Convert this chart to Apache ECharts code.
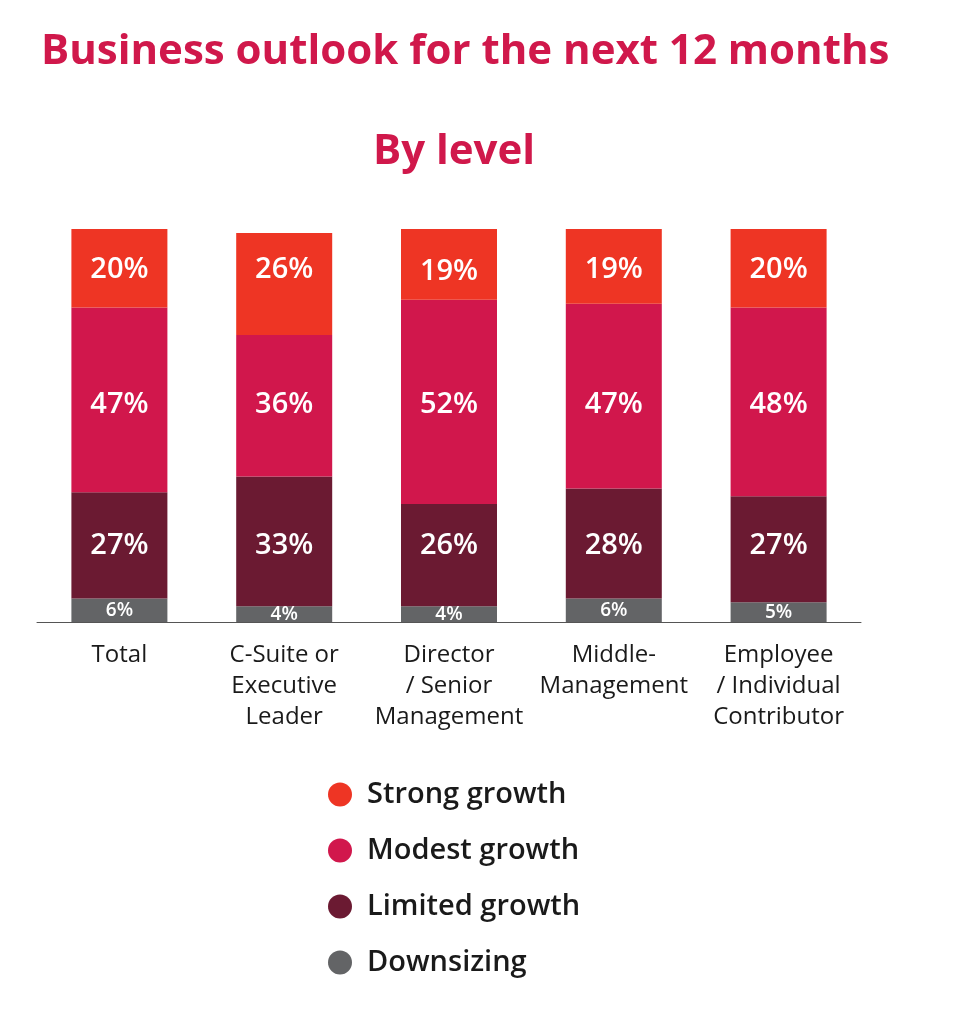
<!DOCTYPE html>
<html>
<head>
<meta charset="utf-8">
<script src="https://cdn.jsdelivr.net/npm/echarts@6/dist/echarts.min.js"></script>
<style>
  html, body { margin: 0; padding: 0; background: #fff; }
  #chart { width: 961px; height: 1020px; }
</style>
</head>
<body>
<div id="chart"></div>
<script>
// data
var levels = ['Total', 'C-Suite or\nExecutive\nLeader', 'Director\n/ Senior\nManagement', 'Middle-\nManagement', 'Employee\n/ Individual\nContributor'];
var strongGrowth = [20, 26, 19, 19, 20];
var modestGrowth = [47, 36, 52, 47, 48];
var limitedGrowth = [27, 33, 26, 28, 27];
var downsizing = [6, 4, 4, 6, 5];

var fontName = 'Open Sans';
var crimson = '#D0184B';

function buildSeries(name, values, color, fontSize) {
    return {
        name: name,
        type: 'bar',
        stack: 'level',
        barWidth: 96,
        data: values,
        itemStyle: { color: color },
        label: {
            show: true,
            position: 'inside',
            color: '#ffffff',
            fontFamily: fontName,
            fontSize: fontSize,
            fontWeight: 600,
            formatter: '{c}%'
        }
    };
}

var chart = echarts.init(document.getElementById('chart'));
chart.setOption({
    backgroundColor: '#ffffff',
    animation: false,
    title: [{
        text: 'Business outlook for the next 12 months',
        left: 36,
        top: 26,
        textStyle: { color: crimson, fontFamily: fontName, fontSize: 42, fontWeight: 'bold' }
    }, {
        text: 'By level',
        left: 449,
        textAlign: 'center',
        top: 126,
        textStyle: { color: crimson, fontFamily: fontName, fontSize: 42, fontWeight: 'bold' }
    }],
    legend: {
        orient: 'vertical',
        left: 323,
        top: 775,
        icon: 'circle',
        itemWidth: 24,
        itemHeight: 24,
        itemGap: 27,
        data: ['Strong growth', 'Modest growth', 'Limited growth', 'Downsizing'],
        textStyle: { color: '#1a1a1a', fontFamily: fontName, fontSize: 29, fontWeight: 600, padding: [0, 0, 0, 10] }
    },
    grid: { left: 37, width: 824, top: 229, bottom: 398 },
    xAxis: {
        type: 'category',
        data: levels,
        axisLine: { lineStyle: { color: '#555555', width: 1 } },
        axisTick: { show: false },
        axisLabel: {
            color: '#1a1a1a',
            fontFamily: fontName,
            fontSize: 24,
            lineHeight: 31,
            margin: 18,
            interval: 0
        }
    },
    yAxis: {
        type: 'value',
        min: 0,
        max: 100,
        show: false
    },
    series: [
        buildSeries('Downsizing', downsizing, '#636466', 19),
        buildSeries('Limited growth', limitedGrowth, '#6B1A32', 29),
        buildSeries('Modest growth', modestGrowth, '#D1174C', 29),
        buildSeries('Strong growth', strongGrowth, '#EE3524', 29)
    ]
});

// the labels of the three upper segments sit on fixed rows in the original
function alignLabels() {
    var stacks = [downsizing, limitedGrowth, modestGrowth, strongGrowth];
    var rowY = [null, 546, 405, 270];
    var update = stacks.map(function(vals, s) {
        if (rowY[s] === null) return {};
        return {
            data: vals.map(function(v, i) {
                var base = 0;
                for (var k = 0; k < s; k++) base += stacks[k][i];
                var center = chart.convertToPixel({ gridIndex: 0 }, [i, base + v / 2])[1];
                return { value: v, label: { offset: [0, rowY[s] - center] } };
            })
        };
    });
    chart.setOption({ series: update });
}
alignLabels();
</script>
</body>
</html>
